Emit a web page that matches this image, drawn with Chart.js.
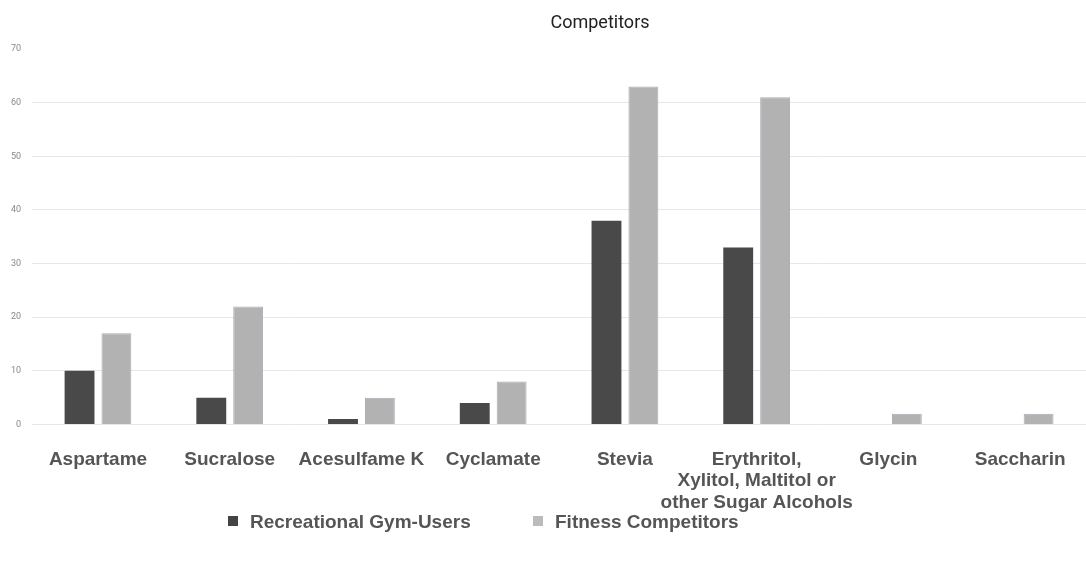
<!DOCTYPE html>
<html>
<head>
<meta charset="utf-8">
<script src="https://cdn.jsdelivr.net/npm/chart.js@4"></script>
<style>
  html, body { margin: 0; padding: 0; background: #fff; }
  #wrap { position: relative; width: 1086px; height: 564px; }
  #title {
    position: absolute; left: 0; top: 11px; width: 1086px;
    font-family: Roboto, sans-serif; font-size: 18px; color: #222;
    text-align: center; padding-left: 114px; box-sizing: border-box;
  }
  #legend {
    position: absolute; top: 511px; left: 228px;
    font-family: "Liberation Sans", Arial, sans-serif; font-weight: bold;
    font-size: 19px; color: #555; white-space: nowrap;
  }
  #legend span.item { position: absolute; top: 0; }
  #legend i { display: inline-block; width: 10px; height: 10px; margin-right: 12px; vertical-align: 2px; }
</style>
</head>
<body>
<div id="wrap">
  <canvas id="chart"></canvas>
  <div id="title">Competitors</div>
  <div id="legend"></div>
</div>
<script>
const categories = [
  "Aspartame",
  "Sucralose",
  "Acesulfame K",
  "Cyclamate",
  "Stevia",
  ["Erythritol,", "Xylitol, Maltitol or", "other Sugar Alcohols"],
  "Glycin",
  "Saccharin",
];
const seriesNames = ["Recreational Gym-Users", "Fitness Competitors"];
const recreational = [10, 5, 1, 4, 38, 33, 0, 0];
const competitors = [17, 22, 5, 8, 63, 61, 2, 2];
const yTicks = [0, 10, 20, 30, 40, 50, 60, 70];
const swatches = ["#444", "#bbb"];

const chart = new Chart("chart", {
  type: "bar",
  data: {
    labels: categories,
    datasets: [
      {
        label: seriesNames[0],
        data: recreational,
        backgroundColor: "#494949",
        borderWidth: 0,
        categoryPercentage: 0.56,
        barPercentage: 0.81,
      },
      {
        label: seriesNames[1],
        data: competitors,
        backgroundColor: "#b2b2b2",
        borderColor: "#a7adb6",
        borderWidth: 1,
        categoryPercentage: 0.56,
        barPercentage: 0.81,
      },
    ],
  },
  options: {
    responsive: true,
    maintainAspectRatio: false,
    animation: false,
    layout: { padding: { left: 0, right: 0, top: 49, bottom: 34 } },
    scales: {
      x: {
        grid: { display: false },
        border: { display: false },
        ticks: {
          color: "#555",
          font: { family: "'Liberation Sans', Arial, sans-serif", size: 19, weight: "bold", lineHeight: 1.15 },
          padding: 16,
          maxRotation: 0,
          autoSkip: false,
        },
      },
      y: {
        min: 0,
        max: 70,
        afterBuildTicks: (axis) => {
          axis.ticks = yTicks.map((v) => ({ value: v }));
        },
        // top line is cut off in the original, so no grid there
        grid: {
          color: (ctx) => (ctx.tick && ctx.tick.value === 70 ? "rgba(0,0,0,0)" : "#e7e7e7"),
          drawTicks: false,
        },
        border: { display: false },
        ticks: {
          color: "#888",
          font: { family: "Roboto, sans-serif", size: 9 },
          padding: 11,
        },
      },
    },
    plugins: {
      tooltip: { enabled: false },
      legend: { display: false },
    },
  },
});

// html legend, spaced like the original
const legend = document.getElementById("legend");
const offsets = [0, 305];
seriesNames.forEach((name, i) => {
  const item = document.createElement("span");
  item.className = "item";
  item.style.left = offsets[i] + "px";
  item.innerHTML = `<i style="background:${swatches[i]}"></i>${name}`;
  legend.appendChild(item);
});
</script>
</body>
</html>
